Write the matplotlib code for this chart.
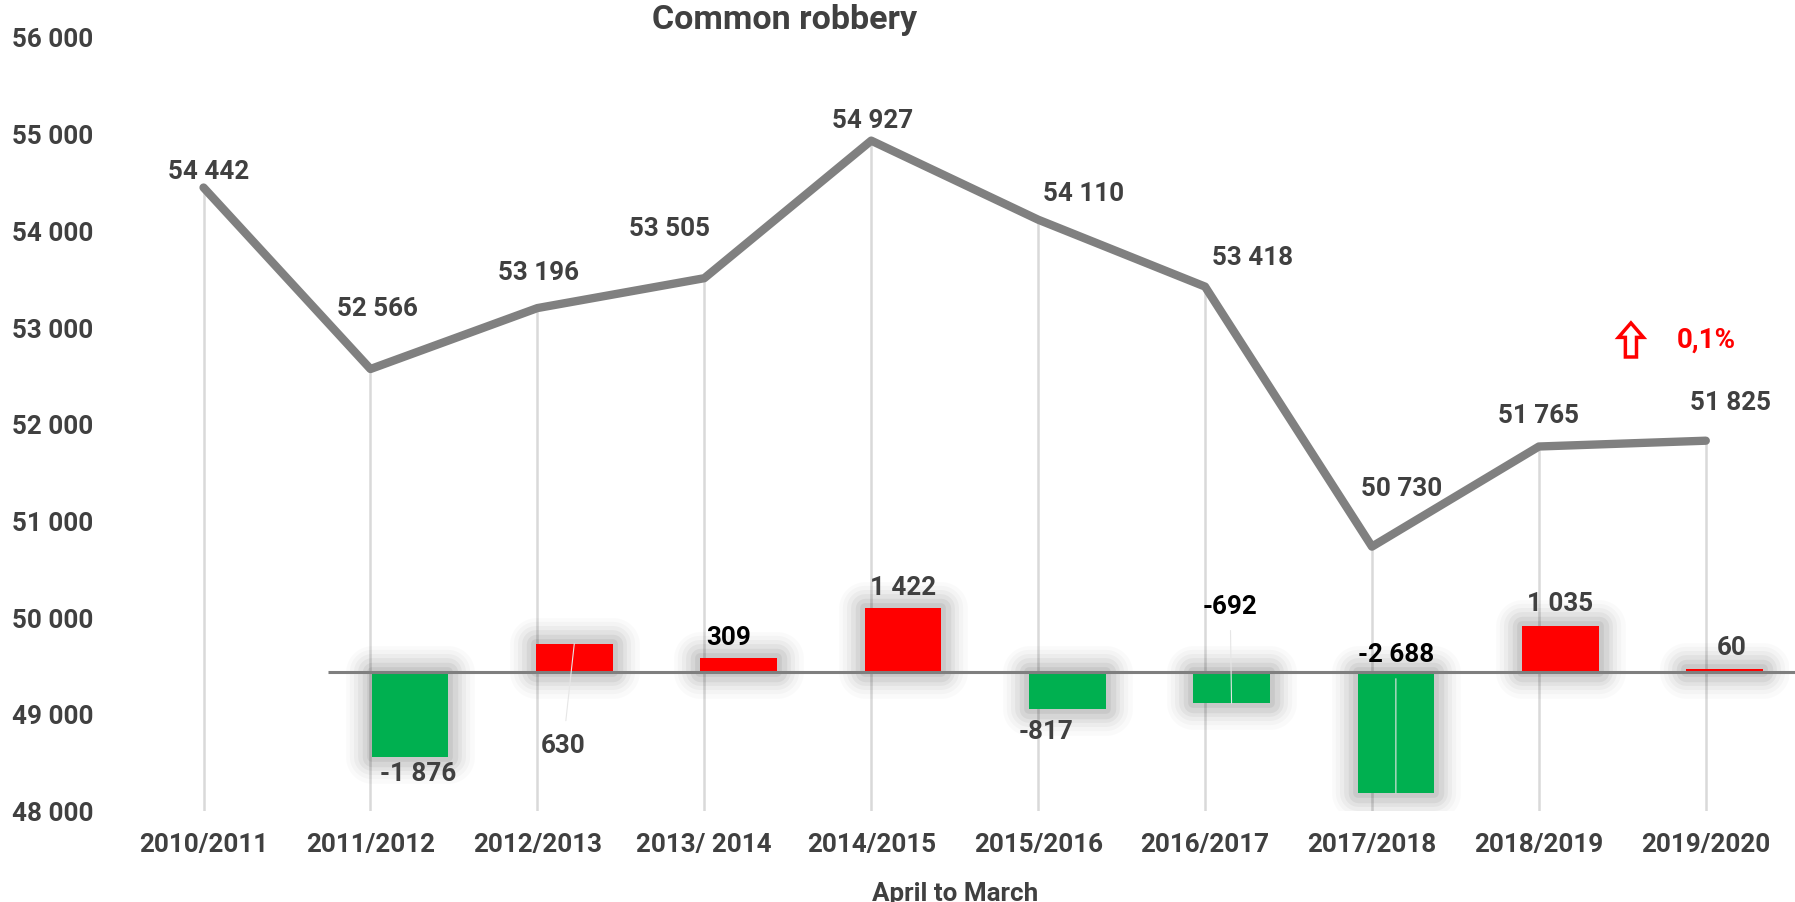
import matplotlib
matplotlib.use("Agg")
import matplotlib.pyplot as plt
from matplotlib.patches import Polygon

plt.rcParams['font.family'] = ['Roboto', 'DejaVu Sans']
plt.rcParams['font.weight'] = 'bold'

years = ["2010/2011", "2011/2012", "2012/2013", "2013/ 2014", "2014/2015",
         "2015/2016", "2016/2017", "2017/2018", "2018/2019", "2019/2020"]
robbery = [54442, 52566, 53196, 53505, 54927, 54110, 53418, 50730, 51765, 51825]
change = [-1876, 630, 309, 1422, -817, -692, -2688, 1035, 60]

# label offsets (points) - picked by eye
line_off = [(4, 12), (5, 44), (1, 26), (-25, 36), (1, 15), (33, 19), (34, 21), (21, 42), (0, 23), (18, 28)]
bar_off = [(6, -12), (-8, -73), (-7, 15), (0, 15), (-15, -16), (-1, 70), (0, 100), (0, 16), (5, 16)]
bar_lab_col = ['#404040', '#404040', 'black', '#404040', '#404040', 'black', 'black', '#404040', '#404040']
leader = [False, True, False, False, False, True, True, False, False]

def fmt(v):
    return f"{v:,}".replace(",", " ")

grey = '#404040'
fs = 18.7
fig = plt.figure(figsize=(17.95, 9.03), dpi=100)
rect = [0.0669, 0.1011, 0.9299, 0.857]
ax = fig.add_axes(rect)

x = list(range(len(years)))
ax.vlines(x, 48000, robbery, color='#d9d9d9', lw=1.8, zorder=1)
ax.plot(x, robbery, color='#808080', lw=6, solid_capstyle='round', solid_joinstyle='round', zorder=3)
for i, v in enumerate(robbery):
    ax.annotate(fmt(v), (i, v), xytext=line_off[i], textcoords='offset points',
                ha='center', va='center', fontsize=fs, color=grey, fontweight='bold')

ax.set_xlim(-0.5, 9.5)
ax.set_ylim(48000, 56000)
ax.set_yticks(range(48000, 56001, 1000))
ax.set_yticklabels([fmt(v) for v in range(48000, 56001, 1000)])
ax.set_xticks(x)
ax.set_xticklabels(years)
ax.tick_params(axis='y', length=0, pad=78, labelsize=fs, labelcolor=grey)
ax.tick_params(axis='x', length=0, pad=15, labelsize=fs, labelcolor=grey)
for lab in ax.get_yticklabels():
    lab.set_ha('left')
for s in ax.spines.values():
    s.set_visible(False)
ax.set_xlabel("April to March", fontsize=fs, color=grey, fontweight='bold', labelpad=18)

# secondary axes for the yearly change
ax2 = fig.add_axes(rect)
ax2.patch.set_alpha(0)
ax2.set_xlim(-1.764, 8.394)
ax2.set_ylim(-3080, 14118)
ax2.axis('off')
bx = list(range(len(change)))
cols = ['#00b050' if c < 0 else '#ff0000' for c in change]
w = 0.467
# soft shadow round the bars
for lw, a in [(38, 0.02), (32, 0.025), (26, 0.03), (20, 0.04), (14, 0.05), (7, 0.06)]:
    ax2.bar(bx, change, w, color='none', edgecolor=(0, 0, 0, a), linewidth=lw,
            joinstyle='round', zorder=1)
ax2.bar(bx, change, w, color=cols, zorder=2)
ax2.hlines(0, -0.5, 8.45, color='#7f7f7f', lw=2.2, zorder=3, clip_on=False)
for j, c in enumerate(change):
    ap = dict(arrowstyle='-', color='#e6e6e6', lw=0.8, shrinkA=7, shrinkB=0) if leader[j] else None
    ax2.annotate(fmt(c), (j, c), xytext=bar_off[j], textcoords='offset points',
                 ha='center', va='center', fontsize=fs, color=bar_lab_col[j],
                 fontweight='bold', arrowprops=ap, zorder=4)

fig.text(0.437, 0.978, "Common robbery", ha='center', va='center', fontsize=24.5, color=grey, fontweight='bold')

# red hollow arrow + percentage
cx, cy, aw, ah = 0.9086, 0.6224, 0.0139, 0.0377
sw, hh = 0.0062, 0.016
pts = [(cx, cy + ah / 2), (cx + aw / 2, cy + ah / 2 - hh), (cx + sw / 2, cy + ah / 2 - hh),
       (cx + sw / 2, cy - ah / 2), (cx - sw / 2, cy - ah / 2), (cx - sw / 2, cy + ah / 2 - hh),
       (cx - aw / 2, cy + ah / 2 - hh)]
fig.patches.append(Polygon(pts, closed=True, transform=fig.transFigure, fc='white', ec='#ff0000', lw=2.5))
fig.text(0.9505, 0.6235, "0,1%", ha='center', va='center', fontsize=20, color='#ff0000', fontweight='bold')

fig.savefig("out.png", dpi=100)
